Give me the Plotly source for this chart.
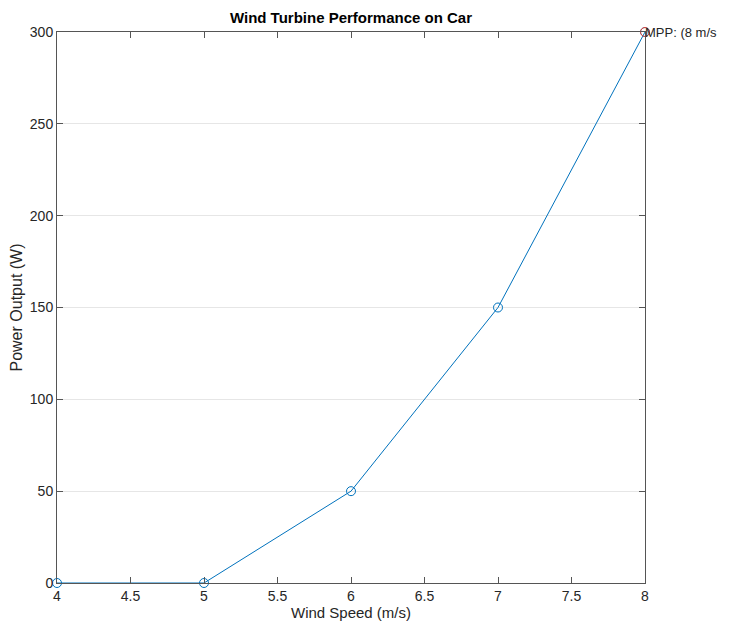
import plotly.graph_objects as go

wind_speed = [4, 5, 6, 7, 8]
power = [0, 0, 50, 150, 300]
mpp_speed = [8]
mpp_power = [300]
mpp_label = "MPP: (8 m/s"

x_ticks = [4, 4.5, 5, 5.5, 6, 6.5, 7, 7.5, 8]
y_ticks = [0, 50, 100, 150, 200, 250, 300]

font_main = "Liberation Sans, Arial, sans-serif"

fig = go.Figure()
fig.add_trace(go.Scatter(
    x=wind_speed, y=power, mode="lines+markers",
    line=dict(color="#0072BD", width=1),
    marker=dict(symbol="circle-open", size=9, color="#0072BD", line=dict(width=1)),
    showlegend=False, cliponaxis=False,
))
fig.add_trace(go.Scatter(
    x=mpp_speed, y=mpp_power, mode="markers",
    marker=dict(symbol="circle-open", size=9, color="#E8463A", line=dict(width=1)),
    showlegend=False, cliponaxis=False,
))
fig.add_annotation(x=mpp_speed[0], y=mpp_power[0], text=mpp_label, showarrow=False,
                   xanchor="left", yanchor="middle", xshift=-2,
                   font=dict(family=font_main, size=13, color="#262626"))

fig.update_layout(
    width=733, height=627,
    margin=dict(l=49, r=96, t=24, b=52, autoexpand=False),
    paper_bgcolor="white", plot_bgcolor="white",
    title=dict(text="<b>Wind Turbine Performance on Car</b>", x=343 / 733, xanchor="center",
               y=1 - 10 / 627, yanchor="middle",
               font=dict(family=font_main, size=15, color="black"), automargin=False),
    font=dict(family=font_main, size=14, color="#262626"),
)
fig.update_xaxes(
    range=[4, 8], tickvals=x_ticks, ticktext=[f"{v:g}" for v in x_ticks],
    ticks="inside", ticklen=6, tickcolor="#555555", showgrid=False,
    showline=True, linecolor="#555555", linewidth=1, mirror="ticks",
    zeroline=False, automargin=False,
    title=dict(text="Wind Speed (m/s)", standoff=0, font=dict(family=font_main, size=15)),
)
fig.update_yaxes(
    range=[0, 300], tickvals=y_ticks, ticktext=[str(v) for v in y_ticks],
    ticks="inside", ticklen=6, tickcolor="#555555", showgrid=True, gridcolor="#e6e6e6",
    showline=True, linecolor="#555555", linewidth=1, mirror="ticks",
    zeroline=False, automargin=False,
    title=dict(text="Power Output (W)", standoff=6, font=dict(family=font_main, size=16)),
)

fig.write_html("out.html")
